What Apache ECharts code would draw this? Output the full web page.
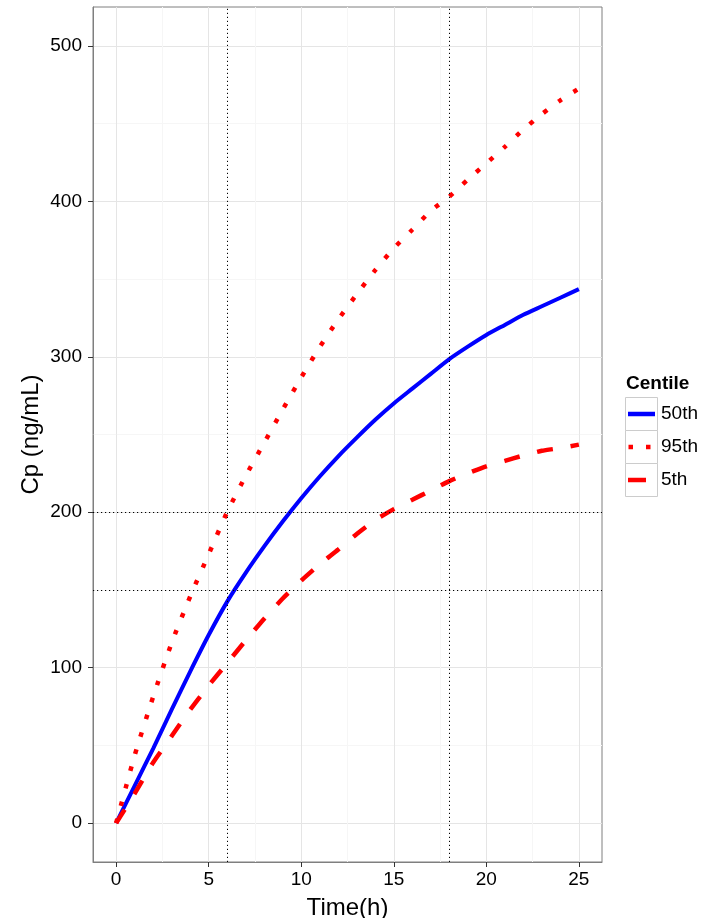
<!DOCTYPE html>
<html>
<head>
<meta charset="utf-8">
<script src="https://cdn.jsdelivr.net/npm/echarts@6/dist/echarts.min.js"></script>
<style>
html,body{margin:0;padding:0;background:#fff;}
#chart{width:705px;height:918px;}
</style>
</head>
<body>
<div id="chart"></div>
<script>
// ---- data ----
var times = [0,1,2,3,4,5,6,7,8,9,10,11,12,13,14,15,16,17,18,19,20,21,22,23,24,25];
var p50 = [0,24,48,73,97.5,121,142.5,161,178,194,209,223,236,248,259.5,270,279.5,289,298.5,306.5,314,320.5,327,332.5,338,343.5];
var p95 = [0,43.5,81.3,116,145.8,173,200.2,223.4,244.7,266,286.7,306.3,324,340.2,355.7,369.8,381.7,393.9,403,414,424.4,435,446.2,456.1,465,472.5];
var p5  = [0,19,39,56,73,88.5,103,117.5,131.5,144.5,156,166.5,176,186,195,202,208,214,220,225,229.5,233,236.5,239.5,241.3,243.5];
var seriesNames = ['50th','95th','5th'];
var legendTitle = 'Centile';
var xTicks = [0,5,10,15,20,25];
var xMinor = [2.5,7.5,12.5,17.5,22.5];
var yTicks = [0,100,200,300,400,500];
var yMinor = [50,150,250,350,450];
var refX = [6,18];
var refY = [150,200];
var xTitle = 'Time(h)';
var yTitle = 'Cp (ng/mL)';

function pairs(ys){ return times.map(function(t,i){ return [t, ys[i]]; }); }

var FF = 'Liberation Sans, Arial, Helvetica, sans-serif';
var chart = echarts.init(document.getElementById('chart'), null, {renderer:'canvas'});

var refLines = refX.map(function(v){ return {xAxis:v}; }).concat(refY.map(function(v){ return {yAxis:v}; }));

var option = {
  animation:false,
  backgroundColor:'#fff',
  grid:{left:93, top:7, width:509, height:855, show:true, borderColor:'#7f7f7f', borderWidth:1,
        backgroundColor:'#fff', containLabel:false, outerBoundsMode:'none'},
  xAxis:[
    {type:'value', min:-1.25, max:26.25, position:'bottom',
     axisLine:{show:true, onZero:false, lineStyle:{color:'#7f7f7f', width:1}},
     axisTick:{show:true, inside:false, customValues:xTicks, length:5, lineStyle:{color:'#333', width:1}},
     axisLabel:{customValues:xTicks, fontSize:19, color:'#000', margin:8, fontFamily:FF},
     splitLine:{show:true, lineStyle:{color:'#e5e5e5', width:1}},
     name:xTitle, nameLocation:'middle', nameGap:34, nameMoveOverlap:false,
     nameTextStyle:{fontSize:24, color:'#000', fontFamily:FF}},
    {type:'value', min:-1.25, max:26.25, position:'top',
     axisLine:{show:false, onZero:false}, axisTick:{show:false, customValues:xMinor},
     axisLabel:{show:false, customValues:xMinor},
     splitLine:{show:true, lineStyle:{color:'#f6f6f6', width:1}}}
  ],
  yAxis:[
    {type:'value', min:-25, max:525, position:'left',
     axisLine:{show:true, onZero:false, lineStyle:{color:'#7f7f7f', width:1}},
     axisTick:{show:true, inside:false, customValues:yTicks, length:5, lineStyle:{color:'#333', width:1}},
     axisLabel:{customValues:yTicks, fontSize:19, color:'#000', margin:11, fontFamily:FF},
     splitLine:{show:true, lineStyle:{color:'#e5e5e5', width:1}},
     name:yTitle, nameLocation:'middle', nameGap:50, nameRotate:90, nameMoveOverlap:false,
     nameTextStyle:{fontSize:24, color:'#000', fontFamily:FF}},
    {type:'value', min:-25, max:525, position:'right',
     axisLine:{show:false, onZero:false}, axisTick:{show:false, customValues:yMinor},
     axisLabel:{show:false, customValues:yMinor},
     splitLine:{show:true, lineStyle:{color:'#f6f6f6', width:1}}}
  ],
  series:[
    {name:seriesNames[0], type:'line', data:pairs(p50), showSymbol:false, symbol:'none',
     smooth:0.2, xAxisIndex:0, yAxisIndex:0, z:3,
     lineStyle:{color:'#0000ff', width:4, cap:'butt'}},
    {name:seriesNames[1], type:'line', data:pairs(p95), showSymbol:false, symbol:'none',
     smooth:0.2, xAxisIndex:0, yAxisIndex:0, z:3,
     lineStyle:{color:'#ff0000', width:4.5, type:[4.5,13.5], cap:'butt'}},
    {name:seriesNames[2], type:'line', data:pairs(p5), showSymbol:false, symbol:'none',
     smooth:0.2, xAxisIndex:0, yAxisIndex:0, z:3,
     lineStyle:{color:'#ff0000', width:4.5, type:[16,18], cap:'butt'}},
    {name:'ref', type:'line', data:[], xAxisIndex:0, yAxisIndex:0, z:4, silent:true,
     markLine:{silent:true, symbol:['none','none'], animation:false, label:{show:false},
       lineStyle:{color:'#000', width:1, type:[1.2,2.8]},
       emphasis:{disabled:true},
       data:refLines}}
  ],
  graphic:[
    {type:'text', left:626, top:374, style:{text:legendTitle, font:'bold 19px '+FF, fill:'#000'}},
    {type:'rect', shape:{x:625.5, y:397.5, width:32, height:33}, style:{fill:'#fff', stroke:'#cccccc', lineWidth:1}},
    {type:'rect', shape:{x:625.5, y:430.5, width:32, height:33}, style:{fill:'#fff', stroke:'#cccccc', lineWidth:1}},
    {type:'rect', shape:{x:625.5, y:463.5, width:32, height:33}, style:{fill:'#fff', stroke:'#cccccc', lineWidth:1}},
    {type:'line', shape:{x1:628, y1:414, x2:655, y2:414}, style:{stroke:'#0000ff', lineWidth:4.5}},
    {type:'line', shape:{x1:628.5, y1:447, x2:655, y2:447}, style:{stroke:'#ff0000', lineWidth:4.5, lineDash:[4.5,13]}},
    {type:'line', shape:{x1:628, y1:480, x2:655, y2:480}, style:{stroke:'#ff0000', lineWidth:4.5, lineDash:[18,20]}},
    {type:'text', left:661, top:404, style:{text:seriesNames[0], font:'19px '+FF, fill:'#000'}},
    {type:'text', left:661, top:437, style:{text:seriesNames[1], font:'19px '+FF, fill:'#000'}},
    {type:'text', left:661, top:470, style:{text:seriesNames[2], font:'19px '+FF, fill:'#000'}}
  ]
};
chart.setOption(option);
</script>
</body>
</html>
